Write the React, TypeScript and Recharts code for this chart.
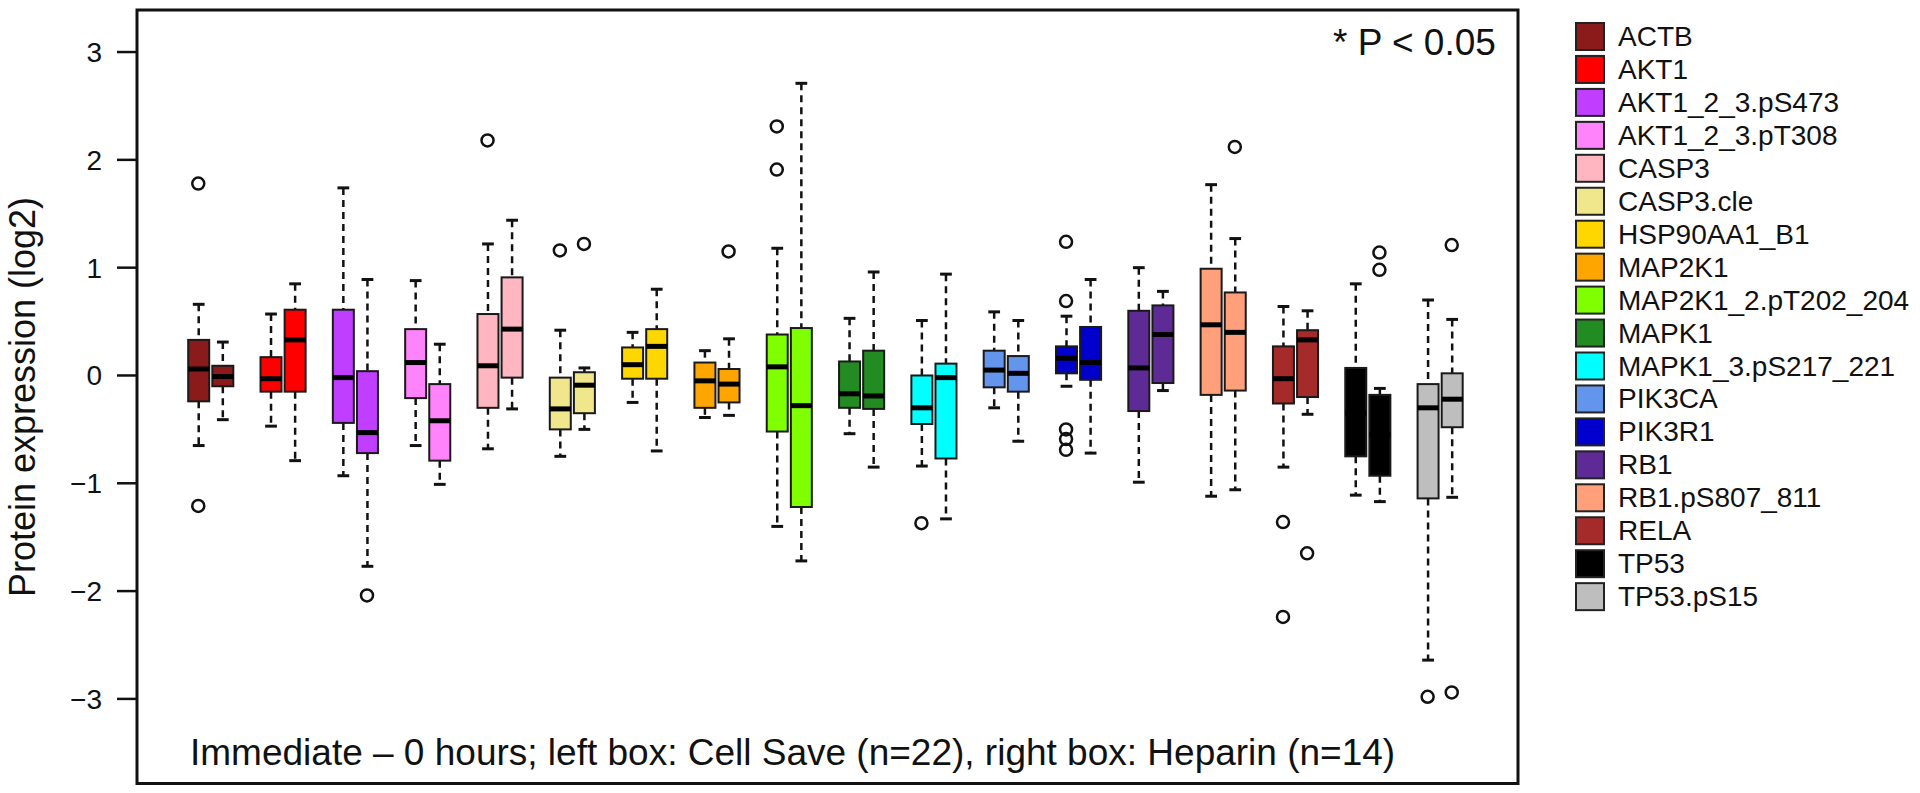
import React from 'react';
import { ComposedChart, Bar, Line, XAxis, YAxis } from 'recharts';

const proteins = [
  'ACTB', 'AKT1', 'AKT1_2_3.pS473', 'AKT1_2_3.pT308', 'CASP3', 'CASP3.cle',
  'HSP90AA1_B1', 'MAP2K1', 'MAP2K1_2.pT202_204', 'MAPK1', 'MAPK1_3.pS217_221',
  'PIK3CA', 'PIK3R1', 'RB1', 'RB1.pS807_811', 'RELA', 'TP53', 'TP53.pS15',
];

const colors = [
  '#8B1A1A', '#FF0000', '#BF3EFF', '#FF83FA', '#FFB6C1', '#F0E68C',
  '#FFD700', '#FFA500', '#7FFF00', '#228B22', '#00FFFF',
  '#6495ED', '#0000CD', '#5E2A95', '#FFA07A', '#A52A2A', '#000000', '#BEBEBE',
];

// left box: Cell Save (n=22)
const csLow = [-0.65, -0.47, -0.93, -0.65, -0.68, -0.75, -0.25, -0.39, -1.40, -0.54, -0.84, -0.30, -0.10, -0.99, -1.12, -0.85, -1.11, -2.64];
const csQ1 = [-0.24, -0.15, -0.44, -0.21, -0.30, -0.50, -0.03, -0.30, -0.52, -0.30, -0.45, -0.11, 0.02, -0.33, -0.18, -0.26, -0.75, -1.14];
const csMed = [0.06, -0.03, -0.02, 0.12, 0.09, -0.31, 0.10, -0.05, 0.08, -0.17, -0.30, 0.05, 0.16, 0.07, 0.47, -0.03, -0.35, -0.30];
const csQ3 = [0.33, 0.17, 0.61, 0.43, 0.57, -0.02, 0.26, 0.12, 0.38, 0.13, 0.00, 0.23, 0.27, 0.60, 0.99, 0.27, 0.07, -0.08];
const csHigh = [0.66, 0.57, 1.74, 0.88, 1.22, 0.42, 0.40, 0.23, 1.18, 0.53, 0.51, 0.59, 0.55, 1.00, 1.77, 0.64, 0.85, 0.70];
const csOut: number[][] = [
  [1.78, -1.21], [], [], [], [2.18], [1.16], [], [], [2.31, 1.91], [], [-1.37],
  [], [1.24, 0.69, -0.50, -0.59, -0.69], [], [], [-1.36, -2.24], [], [-2.98],
];

// right box: Heparin (n=14)
const hepLow = [-0.41, -0.79, -1.77, -1.01, -0.31, -0.50, -0.70, -0.37, -1.72, -0.85, -1.33, -0.61, -0.72, -0.14, -1.06, -0.36, -1.17, -1.13];
const hepQ1 = [-0.10, -0.15, -0.72, -0.79, -0.02, -0.35, -0.03, -0.25, -1.22, -0.31, -0.77, -0.15, -0.04, -0.07, -0.14, -0.20, -0.93, -0.48];
const hepMed = [-0.01, 0.33, -0.53, -0.42, 0.43, -0.09, 0.27, -0.08, -0.28, -0.19, -0.02, 0.02, 0.12, 0.38, 0.40, 0.33, -0.55, -0.22];
const hepQ3 = [0.09, 0.61, 0.04, -0.08, 0.91, 0.03, 0.43, 0.06, 0.44, 0.23, 0.11, 0.18, 0.45, 0.65, 0.77, 0.42, -0.18, 0.02];
const hepHigh = [0.31, 0.85, 0.89, 0.29, 1.44, 0.07, 0.80, 0.34, 2.71, 0.96, 0.94, 0.51, 0.89, 0.78, 1.27, 0.60, -0.12, 0.52];
const hepOut: number[][] = [
  [], [], [-2.04], [], [], [1.22], [], [1.15], [], [], [],
  [], [], [], [2.12], [-1.65], [1.14, 0.98], [1.21, -2.94],
];

const yTicks = [-3, -2, -1, 0, 1, 2, 3];
const outlierKeys = ['o1', 'o2', 'o3', 'o4', 'o5'];

const FONT = '"Liberation Sans", Arial, Helvetica, sans-serif';

type Slot = Record<string, any>;

function boxSlot(id: string, color: string, lo: number, q1: number, med: number, q3: number, hi: number, out: number[]): Slot {
  const s: Slot = { slot: id, box: [q1, q3], lo, q1, med, q3, hi, color };
  out.forEach((v, j) => { s[outlierKeys[j]] = v; });
  return s;
}

// two empty slots before, one gap after each pair
const slots: Slot[] = [{ slot: 'pad-a' }, { slot: 'pad-b' }];
proteins.forEach((p, i) => {
  slots.push(boxSlot(`${p}-cs`, colors[i], csLow[i], csQ1[i], csMed[i], csQ3[i], csHigh[i], csOut[i]));
  slots.push(boxSlot(`${p}-hep`, colors[i], hepLow[i], hepQ1[i], hepMed[i], hepQ3[i], hepHigh[i], hepOut[i]));
  slots.push({ slot: `${p}-gap` });
});
slots.push({ slot: 'pad-c' });

// box + whiskers, positioned from the bar's own [q1, q3] geometry
function BoxShape(props: any) {
  const { x, y, width, height, payload } = props;
  if (!payload || payload.q1 == null || !isFinite(y) || !isFinite(height)) return <g />;
  const top = Math.min(y, y + height);
  const h = Math.abs(height);
  const k = h / (payload.q3 - payload.q1);
  const py = (v: number) => top + (payload.q3 - v) * k;
  const cx = x + width / 2;
  const cap = width * 0.28;
  return (
    <g>
      <line x1={cx} x2={cx} y1={py(payload.hi)} y2={top} stroke="#111" strokeWidth={2.5} strokeDasharray="7 5" />
      <line x1={cx} x2={cx} y1={top + h} y2={py(payload.lo)} stroke="#111" strokeWidth={2.5} strokeDasharray="7 5" />
      <line x1={cx - cap} x2={cx + cap} y1={py(payload.hi)} y2={py(payload.hi)} stroke="#111" strokeWidth={3} />
      <line x1={cx - cap} x2={cx + cap} y1={py(payload.lo)} y2={py(payload.lo)} stroke="#111" strokeWidth={3} />
      <rect x={x} y={top} width={width} height={h} fill={payload.color} stroke="#1a1a1a" strokeWidth={2} />
      <line x1={x} x2={x + width} y1={py(payload.med)} y2={py(payload.med)} stroke="#000" strokeWidth={5} />
    </g>
  );
}

const minusFmt = (v: number) => (v < 0 ? `\u2212${-v}` : `${v}`);

export default function App() {
  return (
    <div style={{ position: 'absolute', left: 0, top: 0, width: 1920, height: 793, background: '#fff', fontFamily: FONT }}>
      <ComposedChart
        width={1920}
        height={793}
        data={slots}
        margin={{ top: 10, right: 402, bottom: 10, left: 0 }}
      >
        <XAxis dataKey="slot" type="category" hide padding={{ left: 1, right: 6 }} />
        <YAxis
          type="number"
          domain={[-3.78, 3.39]}
          allowDataOverflow
          ticks={yTicks}
          width={137}
          axisLine={false}
          tickLine={{ stroke: '#111', strokeWidth: 2.5 }}
          tickSize={20}
          tickMargin={15}
          tickFormatter={minusFmt}
          tick={{ fontSize: 28, fill: '#111', fontFamily: FONT }}
        />
        <Bar dataKey="box" barSize={21} shape={BoxShape} isAnimationActive={false} />
        {outlierKeys.map((k) => (
          <Line
            key={k}
            dataKey={k}
            stroke="none"
            connectNulls={false}
            dot={{ r: 6, fill: 'none', stroke: '#111', strokeWidth: 2.5 }}
            activeDot={false}
            isAnimationActive={false}
          />
        ))}
      </ComposedChart>
      <svg width={1920} height={793} style={{ position: 'absolute', left: 0, top: 0, pointerEvents: 'none' }} fontFamily={FONT}>
        <rect x={137} y={10} width={1381} height={773.5} fill="none" stroke="#111" strokeWidth={3} />
        <text x={35} y={397} fontSize={36} fill="#111" textAnchor="middle" transform="rotate(-90 35 397)">
          Protein expression (log2)
        </text>
        <text x={1333} y={55} fontSize={37} fill="#111">* P &lt; 0.05</text>
        <text x={190} y={765} fontSize={37} fill="#111">
          Immediate – 0 hours; left box: Cell Save (n=22), right box: Heparin (n=14)
        </text>
        {proteins.map((p, i) => (
          <g key={p}>
            <rect x={1576} y={23 + i * 32.95} width={28} height={27} fill={colors[i]} stroke="#222" strokeWidth={2} />
            <text x={1618} y={46 + i * 32.95} fontSize={28} fill="#111">{p}</text>
          </g>
        ))}
      </svg>
    </div>
  );
}
